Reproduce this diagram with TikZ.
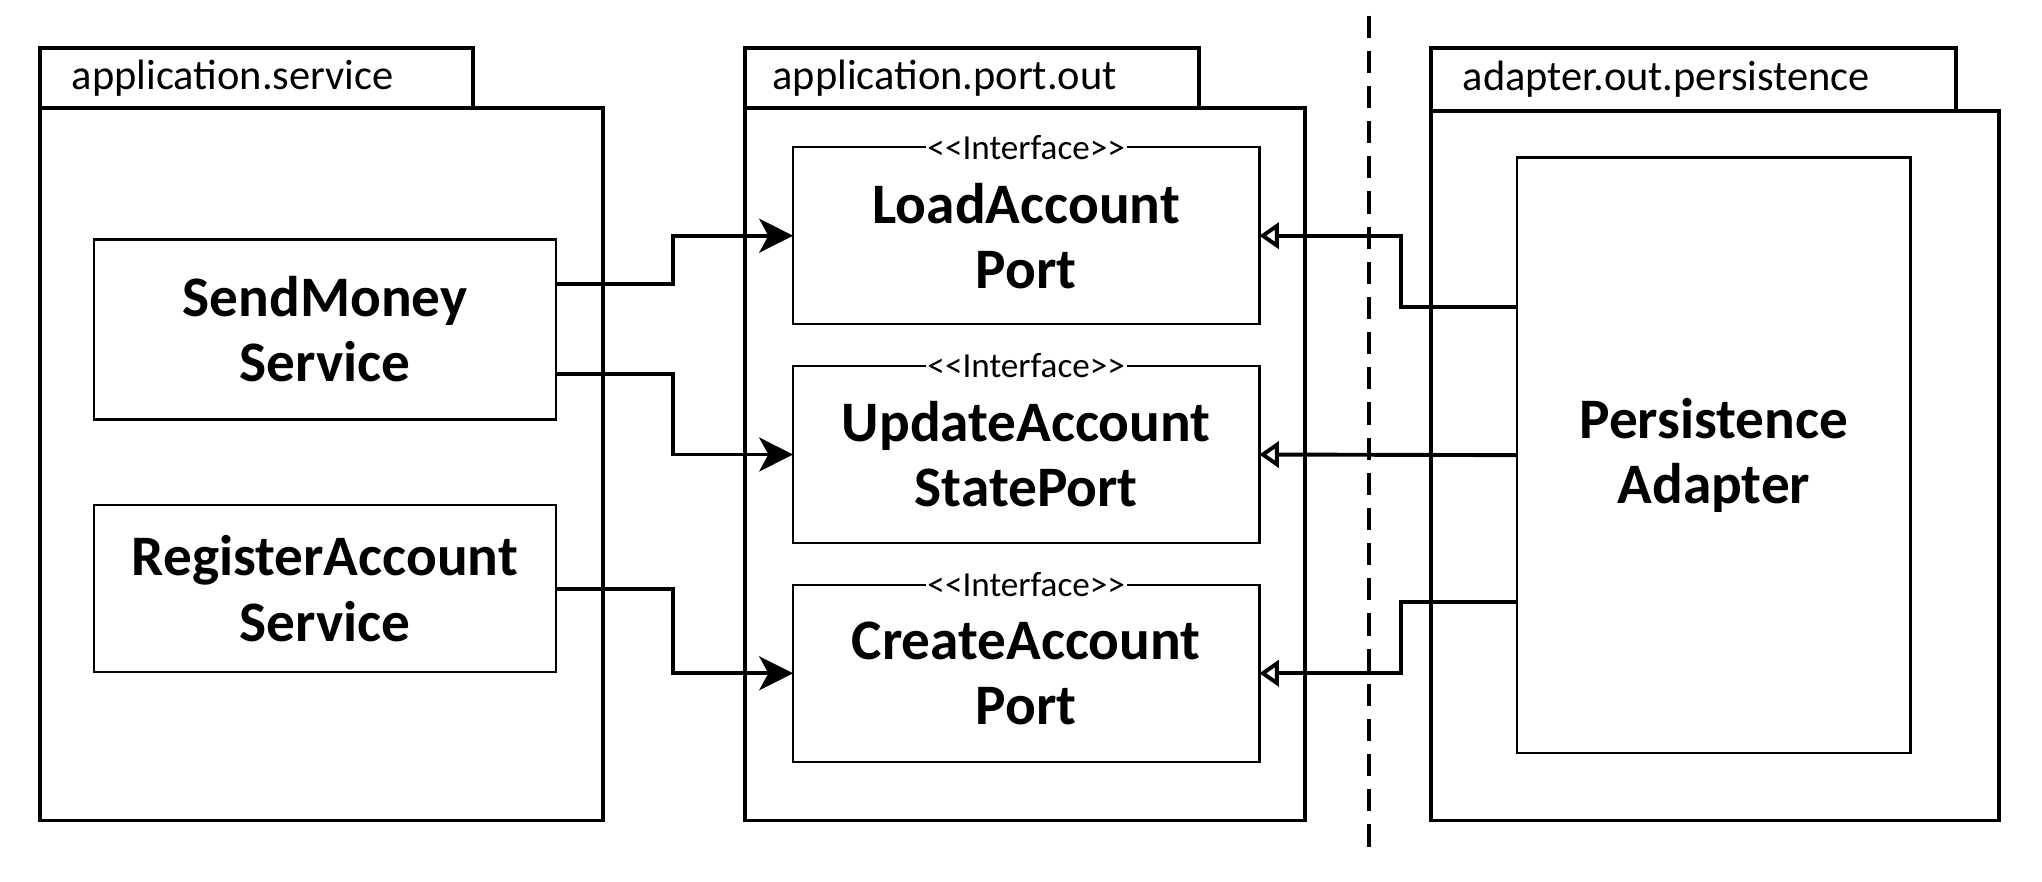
\documentclass[tikz,border=0pt]{standalone}
\usepackage{fontspec}
\setmainfont{Carlito}
\usetikzlibrary{arrows.meta}
\newcommand{\stereotxt}{<\kern0pt<Interface>\kern0pt>}
\begin{document}
\begin{tikzpicture}[x=1pt,y=-1pt,
  pkg/.style={draw, line width=3pt, inner sep=0pt, outer sep=0pt, anchor=north west},
  box/.style={draw, line width=1.8pt, inner sep=0pt, outer sep=0pt, anchor=north west, align=center, font=\fontsize{44}{50}\selectfont\bfseries},
  pkglabel/.style={anchor=west, inner sep=0pt, font=\fontsize{32.6}{38}\selectfont},
  stereo/.style={fill=white, inner sep=1.5pt, font=\fontsize{27}{30}\selectfont},
  conn/.style={line width=3pt},
  uses/.style={conn, -{Stealth[length=26pt,width=26pt,inset=7pt]}},
  impl/.style={conn, -{Triangle[open,length=15pt,width=20pt]}},
  divider/.style={line width=3pt, dash pattern=on 17pt off 10pt}
]
\fill[white] (0,0) rectangle (1568,677);
\useasboundingbox (0,0) rectangle (1568,677);

% packages
\node[pkg, minimum width=332, minimum height=46] (t1) at (31,37) {};
\node[pkg, minimum width=432, minimum height=547] (p1) at (31,83) {};
\node[pkglabel] (l1) at ([xshift=24pt]t1.west) {application.service};

\node[pkg, minimum width=349, minimum height=46] (t2) at (572,37) {};
\node[pkg, minimum width=430, minimum height=547] (p2) at (572,83) {};
\node[pkglabel] (l2) at ([xshift=21pt]t2.west) {application.port.out};

\node[pkg, minimum width=403, minimum height=48] (t3) at (1099,37) {};
\node[pkg, minimum width=436, minimum height=545] (p3) at (1099,85) {};
\node[pkglabel] (l3) at ([xshift=24pt]t3.west) {adapter.out.persistence};

% services
\node[box, minimum width=355, minimum height=138] (sms) at (72,184) {SendMoney\\Service};
\node[box, minimum width=355, minimum height=128] (ras) at (72,388) {RegisterAccount\\Service};

% ports
\node[box, minimum width=358, minimum height=136] (lap) at (609,113) {LoadAccount\\Port};
\node[box, minimum width=358, minimum height=136] (usp) at (609,281) {UpdateAccount\\StatePort};
\node[box, minimum width=358, minimum height=136] (cap) at (609,449) {CreateAccount\\Port};
\node[stereo] (s1) at (lap.north) {\stereotxt};
\node[stereo] (s2) at (usp.north) {\stereotxt};
\node[stereo] (s3) at (cap.north) {\stereotxt};

% adapter
\node[box, minimum width=302, minimum height=457] (pa) at (1165,121) {Persistence\\Adapter};

% divider
\coordinate (dtop) at (1051,12);
\coordinate (dbot) at (1051,655);
\draw[divider] (dtop) -- (dbot);

% uses
\draw[uses] ([yshift=35pt]sms.east) -- ++(90,0) |- (lap.west);
\draw[uses] ([yshift=-34pt]sms.east) -- ++(90,0) |- (usp.west);
\draw[uses] (ras.east) -- ++(90,0) |- (cap.west);

% implements
\draw[impl] ([yshift=114pt]pa.west) -- ++(-89,0) |- (lap.east);
\draw[impl] (pa.west) -- (usp.east);
\draw[impl] ([yshift=-113pt]pa.west) -- ++(-89,0) |- (cap.east);
\end{tikzpicture}
\end{document}
